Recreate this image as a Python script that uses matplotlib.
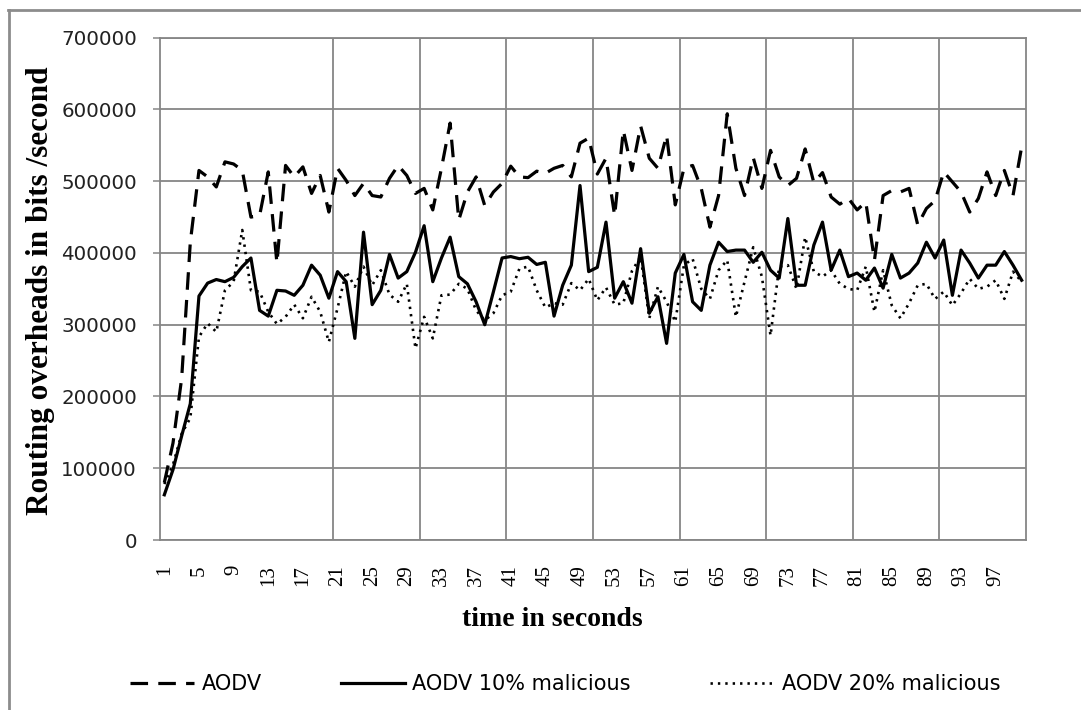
import matplotlib
matplotlib.use('Agg')
import matplotlib.pyplot as plt
from matplotlib.lines import Line2D

time_s = list(range(1, 101))

aodv = [80000, 135000, 225000, 415000, 515000, 506000, 492000, 527000, 524000, 515000,
        450000, 452000, 513000, 386000, 522000, 506000, 520000, 483000, 508000, 457000,
        518000, 501000, 480000, 497000, 480000, 478000, 504000, 522000, 508000, 483000,
        490000, 460000, 518000, 581000, 446000, 485000, 506000, 466000, 485000, 497000,
        521000, 506000, 505000, 514000, 511000, 518000, 522000, 506000, 553000, 560000,
        510000, 532000, 452000, 571000, 515000, 577000, 532000, 518000, 564000, 467000,
        518000, 522000, 490000, 436000, 480000, 594000, 518000, 480000, 533000, 490000,
        543000, 506000, 494000, 504000, 545000, 498000, 512000, 478000, 468000, 476000,
        460000, 471000, 390000, 480000, 487000, 485000, 490000, 439000, 462000, 473000,
        513000, 499000, 485000, 457000, 476000, 513000, 480000, 515000, 480000, 548000]

aodv_10 = [63000, 98000, 145000, 190000, 340000, 358000, 363000, 360000, 366000, 381000,
           393000, 320000, 312000, 348000, 347000, 341000, 355000, 383000, 369000, 337000,
           374000, 360000, 281000, 429000, 328000, 348000, 398000, 365000, 374000, 401000,
           438000, 360000, 393000, 422000, 367000, 357000, 332000, 300000, 346000, 393000,
           395000, 392000, 394000, 384000, 387000, 312000, 355000, 383000, 494000, 374000,
           380000, 443000, 337000, 360000, 330000, 406000, 316000, 339000, 274000, 372000,
           398000, 332000, 320000, 383000, 415000, 402000, 404000, 404000, 387000, 401000,
           376000, 365000, 448000, 355000, 355000, 411000, 443000, 376000, 404000, 367000,
           372000, 362000, 379000, 351000, 398000, 365000, 372000, 386000, 415000, 393000,
           418000, 341000, 404000, 386000, 365000, 383000, 383000, 402000, 383000, 362000]

aodv_20 = [78000, 105000, 148000, 170000, 283000, 302000, 290000, 348000, 360000, 432000,
           348000, 346000, 318000, 301000, 311000, 328000, 309000, 339000, 318000, 276000,
           323000, 374000, 353000, 381000, 355000, 376000, 342000, 332000, 357000, 267000,
           311000, 281000, 341000, 342000, 357000, 350000, 320000, 306000, 316000, 341000,
           346000, 378000, 381000, 348000, 324000, 330000, 328000, 358000, 348000, 364000,
           334000, 352000, 328000, 330000, 375000, 395000, 309000, 353000, 332000, 304000,
           383000, 392000, 350000, 336000, 376000, 390000, 311000, 360000, 408000, 367000,
           285000, 381000, 383000, 350000, 422000, 374000, 367000, 376000, 357000, 350000,
           348000, 381000, 318000, 376000, 327000, 309000, 330000, 355000, 357000, 336000,
           346000, 327000, 344000, 364000, 350000, 353000, 362000, 336000, 374000, 360000]

xtick_values = list(range(1, 101, 4))
xtick_labels = [str(v) for v in xtick_values]
ytick_values = list(range(0, 700001, 100000))
ytick_labels = [str(v) for v in ytick_values]
series_names = ['AODV', 'AODV 10% malicious', 'AODV 20% malicious']

W, H = 1081, 710
grid_color = '#868686'

fig = plt.figure(figsize=(W / 100, H / 100), dpi=100)
fig.patch.set_facecolor('white')

left, right, top, bottom = 160, 1026, 37.7, 540
ax = fig.add_axes([left / W, 1 - bottom / H, (right - left) / W, (bottom - top) / H])

ax.plot(time_s, aodv, color='black', lw=2.3, dashes=(5.5, 3.2), label=series_names[0])
ax.plot(time_s, aodv_10, color='black', lw=2.3, label=series_names[1])
ax.plot(time_s, aodv_20, color='black', lw=1.9, dashes=(0.9, 1.9), label=series_names[2])

ax.set_xlim(0.5, 100.5)
ax.set_ylim(0, 700000)
ax.set_yticks(ytick_values)
ax.set_yticklabels(ytick_labels, fontsize=14.3, family='DejaVu Sans', color='#222222')
ax.set_xticks(xtick_values)
ax.set_xticklabels(xtick_labels, rotation=90, fontsize=15, family='Liberation Serif')
ax.set_xticks([20.5 + 10 * k for k in range(8)], minor=True)
ax.tick_params(axis='x', which='major', length=0, pad=18)
ax.tick_params(axis='x', which='minor', length=0)
ax.tick_params(axis='y', length=5, width=1.1, color=grid_color, pad=11.5)
ax.grid(axis='y', which='major', color=grid_color, lw=1.3)
ax.grid(axis='x', which='minor', color=grid_color, lw=1.3)
for sp in ax.spines.values():
    sp.set_color(grid_color)
    sp.set_linewidth(1.3)
ax.set_axisbelow(True)

fig.text(552 / W, 1 - 619 / H, 'time in seconds', ha='center', va='center',
         fontsize=20, fontweight='bold', family='Liberation Serif')
fig.text(41 / W, 1 - 291 / H, 'Routing overheads in bits /second', rotation=90,
         ha='center', va='center', fontsize=22.5, fontweight='bold', family='Liberation Serif')

fig.legend(loc='center', bbox_to_anchor=(565 / W, 1 - 684 / H), ncol=3, frameon=False,
           prop={'family': 'DejaVu Sans', 'size': 15}, handlelength=3.1,
           handletextpad=0.34, columnspacing=3.8)

fig.add_artist(Line2D([8 / W, 1], [1 - 9.5 / H, 1 - 9.5 / H], transform=fig.transFigure,
                      color='#8c8c8c', lw=2))
fig.add_artist(Line2D([8.5 / W, 8.5 / W], [0, 1 - 9.5 / H], transform=fig.transFigure,
                      color='#8c8c8c', lw=2))

fig.savefig('out.png', dpi=100)
